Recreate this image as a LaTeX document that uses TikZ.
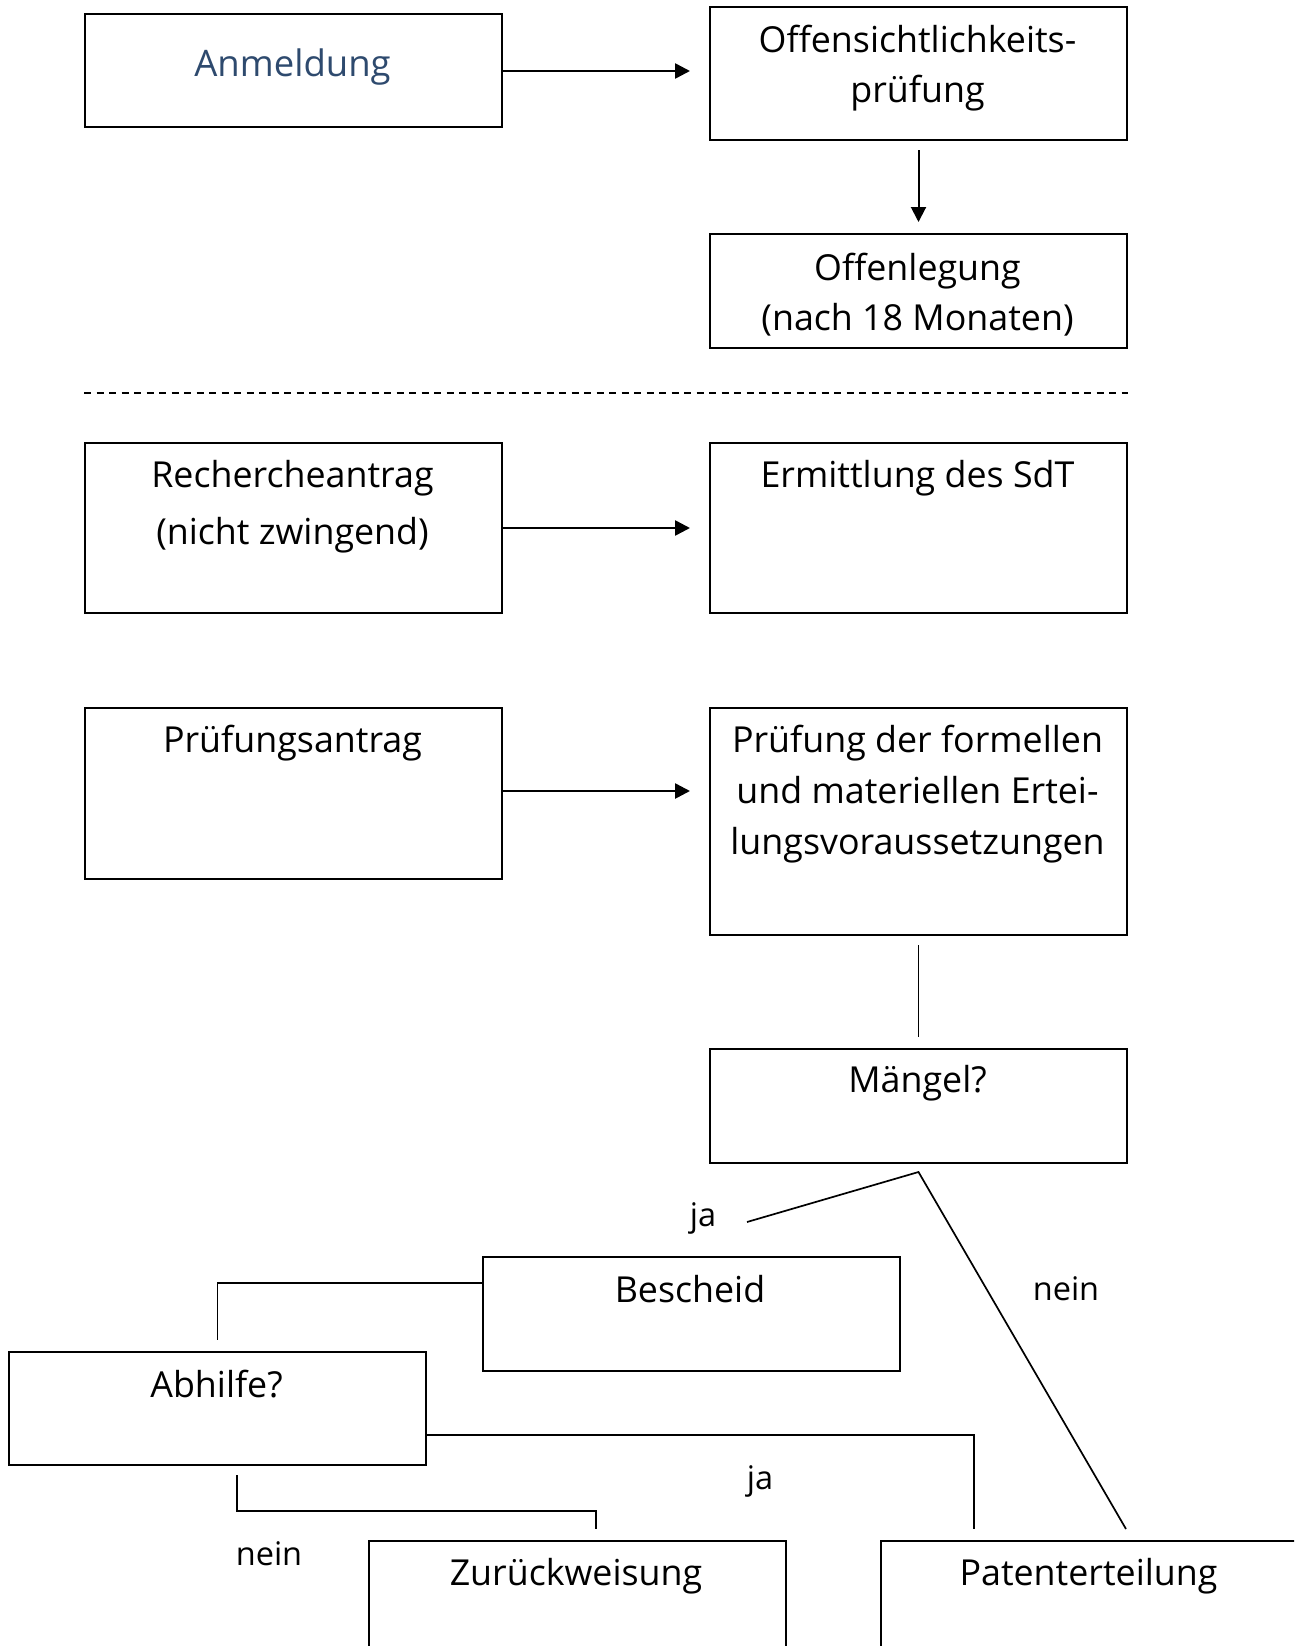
\documentclass[tikz,border=0pt]{standalone}
\usepackage{fontspec}
\setmainfont{Open Sans}
\usetikzlibrary{arrows.meta,calc}
\definecolor{anmblue}{RGB}{46,74,110}
\begin{document}
\begin{tikzpicture}[x=1pt,y=-1pt,
  box/.style={draw=black, line width=2pt, rectangle, inner sep=0pt, minimum width=417pt, anchor=north west},
  txt/.style={inner sep=0pt, anchor=base, align=center, font=\fontsize{35.8}{50}\selectfont},
  lbl/.style={inner sep=0pt, anchor=base, font=\fontsize{32.5}{36}\selectfont},
  arr/.style={line width=2.6pt, -{Triangle[length=15pt,width=15pt]}},
  arrthin/.style={line width=2pt, -{Triangle[length=15pt,width=15pt]}},
  conn/.style={line width=1.7pt},
]
\useasboundingbox (0,0) rectangle (1294,1646);
\clip (0,0) rectangle (1294,1646);

% boxes
\node[box, minimum height=113pt] (anm) at (84,12.7) {};
\node[box, minimum height=133pt] (off) at (709,6) {};
\node[box, minimum height=114pt] (ofl) at (709,233) {};
\node[box, minimum height=170pt] (rech) at (84,442) {};
\node[box, minimum height=170pt] (erm) at (709,442) {};
\node[box, minimum height=171pt] (pa) at (84,707) {};
\node[box, minimum height=227pt] (pf) at (709,707) {};
\node[box, minimum height=114pt] (mg) at (709,1048) {};
\node[box, minimum height=114pt] (bes) at (482,1256) {};
\node[box, minimum height=113pt] (abh) at (8,1351) {};
\node[box, minimum height=150pt] (zur) at (368,1540) {};
\node[box, minimum height=150pt] (pat) at (880,1540) {};

% texts (base anchor = baseline of the last line)
\node[txt, text=anmblue, font=\fontsize{36.5}{50}\selectfont] (anmT) at (292.5,77) {Anmeldung};
\node[txt, font=\fontsize{35.8}{50.5}\selectfont] (offT) at (917.5,102.5) {Offensichtlichkeits-\\prüfung};
\node[txt] (oflT) at (917.5,330) {Offenlegung\\(nach 18 Monaten)};
\node[txt, font=\fontsize{35.8}{57}\selectfont] (rechT) at (292.5,544) {Rechercheantrag\\(nicht zwingend)};
\node[txt] (ermT) at (917.5,487) {Ermittlung des SdT};
\node[txt] (paT) at (292.5,752) {Prüfungsantrag};
\node[txt, font=\fontsize{35.8}{51}\selectfont] (pfT) at (917.5,854) {Prüfung der formellen\\und materiellen Ertei-\\lungsvoraussetzungen};
\node[txt] (mgT) at (917.5,1092) {Mängel?};
\node[txt] (besT) at (690,1302) {Bescheid};
\node[txt] (abhT) at (216.5,1397) {Abhilfe?};
\node[txt] (zurT) at (576,1585) {Zurückweisung};
\node[txt] (patT) at (1088.5,1585) {Patenterteilung};

% labels
\node[lbl] (ja1) at (703,1226) {ja};
\node[lbl] (nein1) at (1066,1300) {nein};
\node[lbl] (ja2) at (760,1489) {ja};
\node[lbl] (nein2) at (269,1565) {nein};

% dashed separator
\draw[line width=2pt, dash pattern=on 7pt off 5.5pt] (anm.west |- 0,393) -- (ofl.east |- 0,393);

% arrows
\draw[arr] (anm.east |- 0,71) -- ($(off.west |- 0,71)+(-19,0)$);
\draw[arrthin] ($(off.south)+(0,9)$) -- ($(ofl.north)+(0,-11)$);
\draw[arr] (rech.east) -- ($(erm.west)+(-19,0)$);
\draw[arr] (pa.east |- 0,791) -- ($(pf.west |- 0,791)+(-19,0)$);

% connectors
\draw[conn] ($(pf.south)+(0,9)$) -- ($(mg.north)+(0,-11)$);
\coordinate (apex) at ($(mg.south)+(0,8)$);
\coordinate (jaend) at (747,1222);
\draw[conn] (jaend) -- (apex) -- ($(pat.north west)+(246,-11)$);
\draw[conn] ($(bes.north west)+(0,27)$) -| ($(abh.north)+(0,-11)$);
\draw[conn] ($(abh.north east)+(0,84)$) -| ($(pat.north west)+(94,-11)$);
\draw[conn] ($(abh.south west)+(229,9)$) |- ($(zur.north west)+(228,-29)$) -- ($(zur.north west)+(228,-11)$);
\end{tikzpicture}
\end{document}
